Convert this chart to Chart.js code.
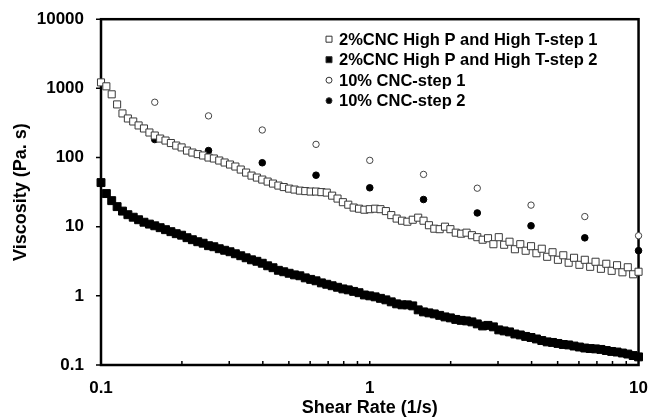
<!DOCTYPE html>
<html>
<head>
<meta charset="utf-8">
<script src="https://cdn.jsdelivr.net/npm/chart.js@4"></script>
<style>
  html, body { margin: 0; padding: 0; background: #fff; }
</style>
</head>
<body>
<canvas id="viscChart" width="653" height="420"></canvas>
<script>
// shear rate grid of the 2% CNC runs (1/s)
const shearRate = [
  0.1, 0.1047, 0.1096, 0.1148, 0.1202, 0.1259, 0.1318, 0.138, 0.1445, 0.1514,
  0.1585, 0.166, 0.1738, 0.182, 0.1905, 0.1995, 0.2089, 0.2188, 0.2291, 0.2399,
  0.2512, 0.263, 0.2754, 0.2884, 0.302, 0.3162, 0.3311, 0.3467, 0.3631, 0.3802,
  0.3981, 0.4169, 0.4365, 0.4571, 0.4786, 0.5012, 0.5248, 0.5495, 0.5754, 0.6026,
  0.631, 0.6607, 0.6918, 0.7244, 0.7586, 0.7943, 0.8318, 0.871, 0.912, 0.955,
  1, 1.047, 1.096, 1.148, 1.202, 1.259, 1.318, 1.38, 1.445, 1.514,
  1.585, 1.66, 1.738, 1.82, 1.905, 1.995, 2.089, 2.188, 2.291, 2.399,
  2.512, 2.63, 2.754, 2.884, 3.02, 3.162, 3.311, 3.467, 3.631, 3.802,
  3.981, 4.169, 4.365, 4.571, 4.786, 5.012, 5.248, 5.495, 5.754, 6.026,
  6.31, 6.607, 6.918, 7.244, 7.586, 7.943, 8.318, 8.71, 9.12, 9.55,
  10
];
const highPTStep1 = [
  1220, 1070, 820, 586, 434, 367, 332, 291, 263, 230,
  208, 188, 176, 162, 149, 140, 126, 118, 112, 107,
  100, 96.8, 90.5, 84.7, 79.2, 74.1, 67.0, 60.6, 54.8, 51.3,
  48.0, 44.9, 42.0, 39.3, 37.4, 35.5, 34.4, 33.2, 32.7, 32.2,
  32.2, 31.6, 31.1, 28.1, 25.5, 22.6, 20.8, 18.9, 18.2, 17.6,
  17.9, 18.2, 17.9, 16.8, 14.7, 13.1, 12.2, 11.8, 12.6, 13.5,
  12.2, 10.5, 9.35, 9.2, 10.0, 9.2, 8.19, 7.92, 8.19, 7.53,
  7.05, 6.48, 6.81, 5.58, 7.05, 5.48, 6.06, 4.72, 5.58, 4.49,
  5.22, 4.13, 4.80, 3.67, 4.27, 3.32, 3.86, 3.01, 3.55, 2.81,
  3.32, 2.63, 3.11, 2.46, 2.91, 2.30, 2.77, 2.19, 2.59, 2.05,
  2.23
];
const highPTStep2 = [
  43.4, 30.1, 23.8, 19.5, 16.8, 14.9, 13.7, 12.6, 11.6, 10.9,
  10.3, 9.67, 9.05, 8.47, 7.92, 7.53, 6.93, 6.48, 6.06, 5.77,
  5.31, 5.13, 4.80, 4.56, 4.34, 4.06, 3.80, 3.55, 3.32, 3.16,
  2.96, 2.72, 2.55, 2.34, 2.23, 2.12, 2.01, 1.95, 1.82, 1.73,
  1.65, 1.54, 1.47, 1.40, 1.33, 1.26, 1.22, 1.16, 1.11, 1.03,
  1.00, 0.967, 0.920, 0.875, 0.819, 0.766, 0.741, 0.741, 0.716, 0.627,
  0.586, 0.567, 0.548, 0.522, 0.496, 0.480, 0.456, 0.442, 0.434, 0.420,
  0.393, 0.367, 0.374, 0.356, 0.322, 0.311, 0.301, 0.281, 0.272, 0.259,
  0.250, 0.238, 0.226, 0.216, 0.212, 0.205, 0.198, 0.195, 0.188, 0.182,
  0.176, 0.173, 0.171, 0.168, 0.162, 0.157, 0.154, 0.149, 0.144, 0.137,
  0.131
];

// 10% CNC runs, coarser grid
const cncShearRate = [0.1585, 0.2512, 0.3981, 0.631, 1, 1.585, 2.512, 3.981, 6.31, 10];
const cncStep1 = [630, 400, 250, 155, 91, 57, 36, 20.5, 14, 7.4];
const cncStep2 = [182, 126, 84, 55.5, 36.5, 24.7, 15.8, 10.3, 6.9, 4.5];

const seriesNames = [
  '2%CNC High P and High T-step 1',
  '2%CNC High P and High T-step 2',
  '10% CNC-step 1',
  '10% CNC-step 2'
];
const xTicks = [0.1, 1, 10];
const xMinorTicks = [0.2, 0.3, 0.4, 0.5, 0.6, 0.7, 0.8, 0.9, 1, 2, 3, 4, 5, 6, 7, 8, 9];
const yTicks = [0.1, 1, 10, 100, 1000, 10000];

const toPoints = (xs, ys) => ys.map((y, i) => ({ x: xs[i], y: y }));

Chart.defaults.font.family = "'Liberation Sans', Arial, sans-serif";
Chart.defaults.font.weight = 'bold';
Chart.defaults.color = '#000';

// box round the plot plus tick marks (y outward, x inward)
const frame = {
  id: 'frame',
  beforeDatasetsDraw(chart) {
    const { ctx, chartArea: a, scales } = chart;
    ctx.save();
    ctx.strokeStyle = '#000';
    ctx.lineWidth = 2.5;
    ctx.strokeRect(a.left, a.top, a.right - a.left, a.bottom - a.top);
    ctx.lineWidth = 1.5;
    ctx.beginPath();
    yTicks.forEach((v) => {
      const y = scales.y.getPixelForValue(v);
      ctx.moveTo(a.left - 5, y);
      ctx.lineTo(a.left, y);
    });
    xMinorTicks.forEach((v) => {
      const x = scales.x.getPixelForValue(v);
      ctx.moveTo(x, a.bottom);
      ctx.lineTo(x, a.bottom - 4);
    });
    ctx.stroke();
    ctx.restore();
  }
};

const legendBox = {
  id: 'legendBox',
  afterDraw(chart) {
    const { ctx, chartArea: a } = chart;
    ctx.save();
    ctx.font = "bold 16.5px 'Liberation Sans', Arial, sans-serif";
    ctx.textBaseline = 'middle';
    ctx.textAlign = 'left';
    chart.data.datasets.forEach((ds, i) => {
      const y = a.top + 20 + i * 20.5;
      const x = a.left + 228;
      ctx.lineWidth = 1;
      ctx.strokeStyle = '#333';
      ctx.fillStyle = ds.backgroundColor;
      ctx.beginPath();
      if (ds.pointStyle === 'rect') {
        ctx.rect(x - 3, y - 3, 6, 6);
      } else {
        ctx.arc(x, y, 3, 0, Math.PI * 2);
      }
      ctx.fill();
      ctx.stroke();
      ctx.fillStyle = '#000';
      ctx.fillText(seriesNames[i], x + 10, y + 1);
    });
    ctx.restore();
  }
};

new Chart(document.getElementById('viscChart'), {
  type: 'scatter',
  data: {
    datasets: [
      {
        label: seriesNames[0],
        data: toPoints(shearRate, highPTStep1),
        pointStyle: 'rect',
        pointRadius: 5,
        backgroundColor: '#fff',
        borderColor: '#3a3a3a',
        borderWidth: 1,
        clip: false,
      },
      {
        label: seriesNames[1],
        data: toPoints(shearRate, highPTStep2),
        pointStyle: 'rect',
        pointRadius: 5.6,
        backgroundColor: '#000',
        borderColor: '#000',
        borderWidth: 1,
        clip: false,
      },
      {
        label: seriesNames[2],
        data: toPoints(cncShearRate, cncStep1),
        pointStyle: 'circle',
        pointRadius: 3.2,
        backgroundColor: '#fff',
        borderColor: '#444',
        borderWidth: 1,
        clip: false,
      },
      {
        label: seriesNames[3],
        data: toPoints(cncShearRate, cncStep2),
        pointStyle: 'circle',
        pointRadius: 3.3,
        backgroundColor: '#000',
        borderColor: '#000',
        borderWidth: 1,
        clip: false,
      },
    ],
  },
  options: {
    responsive: false,
    animation: false,
    layout: { padding: { top: 15, right: 12, left: 0, bottom: 0 } },
    plugins: {
      legend: { display: false },
      tooltip: { enabled: false },
    },
    scales: {
      x: {
        type: 'logarithmic',
        min: 0.1,
        max: 10,
        afterBuildTicks: (s) => { s.ticks = xTicks.map((v) => ({ value: v })); },
        afterFit: (s) => { s.height = 55; },
        grid: { display: false },
        border: { display: false },
        ticks: {
          autoSkip: false,
          maxRotation: 0,
          padding: 5,
          font: { size: 17, weight: 'bold' },
          callback: (v) => String(v),
        },
        title: {
          display: true,
          text: 'Shear Rate (1/s)',
          font: { size: 18, weight: 'bold' },
          padding: { top: 0, bottom: 1 },
        },
      },
      y: {
        type: 'logarithmic',
        min: 0.1,
        max: 10000,
        afterBuildTicks: (s) => { s.ticks = yTicks.map((v) => ({ value: v })); },
        afterFit: (s) => { s.width = 101; },
        grid: { display: false },
        border: { display: false },
        ticks: {
          padding: 9,
          font: { size: 17, weight: 'bold' },
          callback: (v) => String(v),
        },
        title: {
          display: true,
          text: 'Viscosity (Pa. s)',
          font: { size: 18, weight: 'bold' },
          padding: { top: 10, bottom: 0 },
        },
      },
    },
  },
  plugins: [frame, legendBox],
});
</script>
</body>
</html>
